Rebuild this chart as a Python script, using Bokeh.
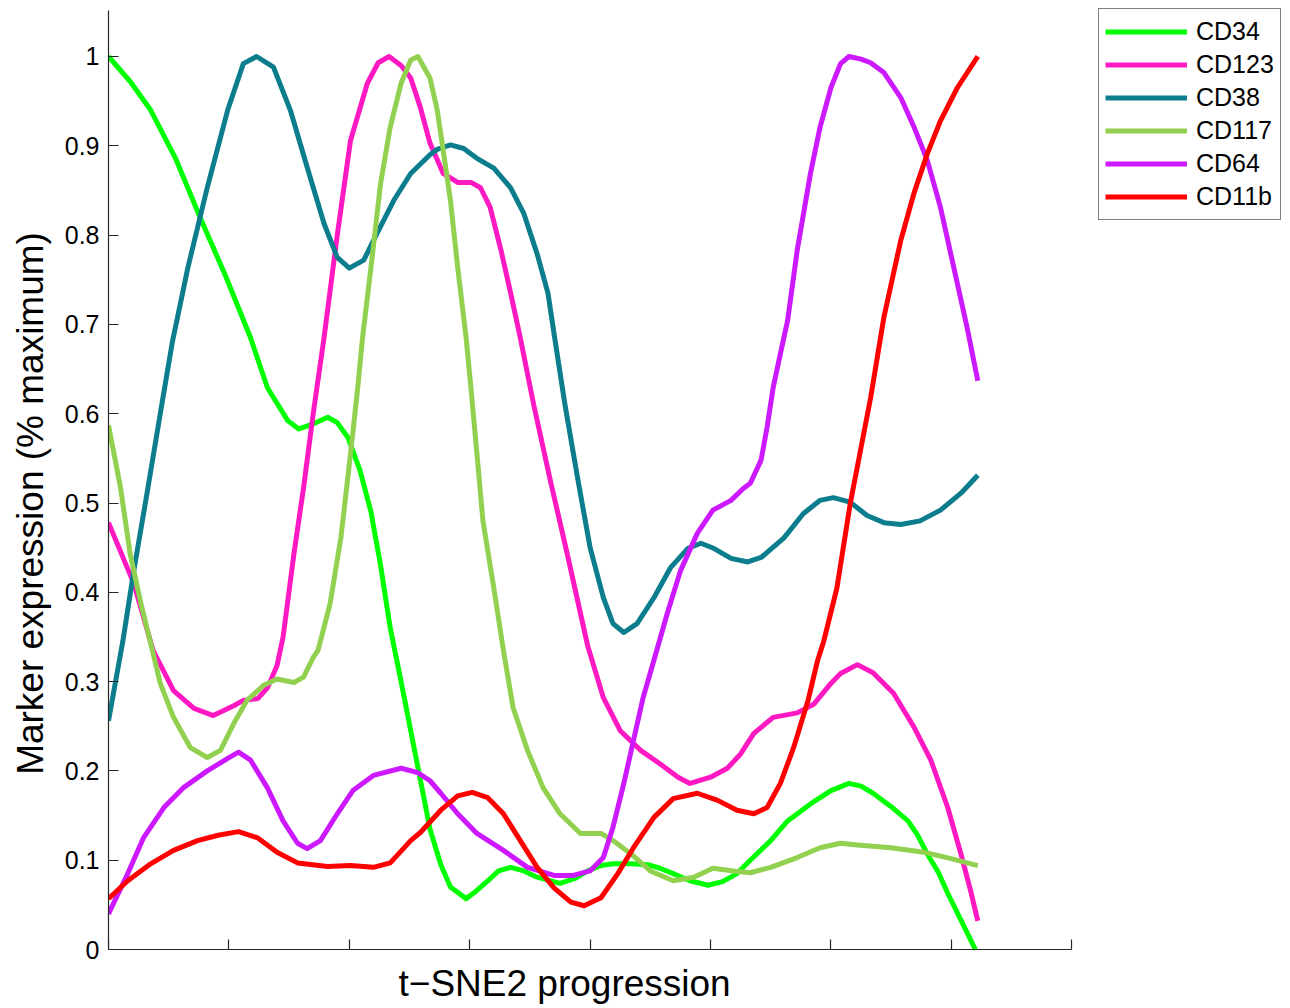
from bokeh.plotting import figure
from bokeh.models import Range1d, FixedTicker, Legend, LegendItem, Label
from bokeh.embed import file_html
from bokeh.resources import INLINE

# ---- data (t-SNE2 progression, arbitrary units; expression as fraction of maximum) ----
names = ["CD34", "CD123", "CD38", "CD117", "CD64", "CD11b"]
colors = ["#00ff00", "#ff19c3", "#0b7d8c", "#92d050", "#cc19ff", "#ff0000"]

x_cd34 = [0, 1.8, 3.5, 5.6, 7.6, 9.7, 11.8, 13.2, 14.9, 15.8,
          16.9, 18.2, 19.0, 19.9, 20.9, 21.8, 22.6, 23.4, 24.3, 25.1,
          25.9, 26.7, 27.6, 28.4, 29.7, 30.5, 31.5, 32.4, 33.4, 34.5,
          35.6, 37.5, 38.8, 39.8, 40.9, 41.9, 43.4, 44.8, 45.8, 46.9,
          48.3, 49.8, 51.0, 52.2, 53.3, 55.0, 56.4, 58.3, 60.0, 61.5,
          62.5, 63.5, 65.0, 66.4, 67.2, 68.0, 68.9, 69.7, 70.8, 72.0]
y_cd34 = [1.0, 0.972, 0.94, 0.885, 0.82, 0.755, 0.685, 0.629, 0.592, 0.583,
          0.588, 0.596, 0.590, 0.573, 0.536, 0.49, 0.43, 0.36, 0.30, 0.245,
          0.19, 0.135, 0.095, 0.07, 0.057, 0.065, 0.077, 0.088, 0.092, 0.088,
          0.081, 0.074, 0.080, 0.088, 0.094, 0.096, 0.096, 0.095, 0.091, 0.085,
          0.077, 0.072, 0.076, 0.085, 0.100, 0.122, 0.144, 0.163, 0.178, 0.186,
          0.183, 0.175, 0.160, 0.144, 0.128, 0.107, 0.087, 0.063, 0.033, 0.0]

x_cd123 = [0, 2.1, 3.7, 5.4, 7.1, 8.7, 10.4, 11.2, 12.4, 13.2,
           14.0, 14.5, 15.4, 16.2, 17.0, 17.9, 19.0, 20.1, 21.5, 22.4,
           23.3, 24.3, 25.1, 25.9, 26.7, 27.8, 29.0, 30.1, 30.9, 31.7,
           32.6, 33.4, 34.2, 35.3, 36.7, 38.1, 39.8, 41.1, 42.5, 44.2,
           45.8, 47.3, 48.3, 50.0, 51.4, 52.5, 53.6, 55.2, 57.2, 58.6,
           60.0, 60.8, 62.2, 63.5, 65.2, 66.9, 68.3, 69.7, 70.8, 71.6,
           72.2]
y_cd123 = [0.478, 0.41, 0.335, 0.29, 0.27, 0.262, 0.273, 0.279, 0.281, 0.293,
           0.318, 0.35, 0.443, 0.517, 0.600, 0.685, 0.80, 0.906, 0.970, 0.993,
           1.0, 0.99, 0.976, 0.943, 0.903, 0.869, 0.859, 0.859, 0.853, 0.831,
           0.783, 0.735, 0.685, 0.611, 0.525, 0.443, 0.340, 0.282, 0.245, 0.223,
           0.208, 0.193, 0.186, 0.193, 0.203, 0.219, 0.242, 0.260, 0.265, 0.275,
           0.298, 0.309, 0.319, 0.310, 0.287, 0.249, 0.212, 0.159, 0.107, 0.066,
           0.032]

x_cd38 = [0, 1.2, 2.1, 3.2, 4.3, 5.3, 6.6, 8.2, 9.9, 11.2,
          12.3, 13.7, 15.1, 16.5, 17.9, 19.0, 20.0, 21.2, 22.3, 23.7,
          25.1, 26.7, 27.3, 28.4, 29.5, 30.6, 32.0, 33.4, 34.5, 35.6,
          36.5, 37.0, 37.9, 39.0, 40.0, 41.1, 41.9, 42.8, 43.9, 45.3,
          46.7, 48.1, 49.2, 50.3, 51.7, 53.1, 54.2, 56.1, 57.7, 59.1,
          60.2, 61.6, 63.0, 64.4, 65.8, 67.4, 69.1, 70.8, 72.2]
y_cd38 = [0.256, 0.346, 0.424, 0.511, 0.600, 0.68, 0.764, 0.853, 0.94, 0.992,
          1.0, 0.988, 0.94, 0.876, 0.813, 0.775, 0.763, 0.772, 0.802, 0.839,
          0.869, 0.890, 0.896, 0.901, 0.897, 0.886, 0.875, 0.853, 0.824, 0.779,
          0.735, 0.690, 0.611, 0.525, 0.450, 0.394, 0.365, 0.355, 0.365, 0.394,
          0.428, 0.449, 0.455, 0.449, 0.438, 0.434, 0.439, 0.461, 0.488, 0.503,
          0.506, 0.501, 0.486, 0.478, 0.476, 0.480, 0.492, 0.511, 0.531]

x_cd117 = [0, 1.0, 1.8, 2.7, 3.5, 4.3, 5.4, 6.8, 8.2, 9.3,
           10.4, 11.5, 12.9, 14.0, 15.4, 16.2, 17.0, 17.4, 18.4, 19.3,
           20.1, 20.7, 21.1, 21.8, 22.6, 23.4, 24.3, 25.1, 25.7, 26.7,
           27.3, 27.8, 28.4, 29.0, 29.7, 30.1, 30.6, 31.1, 32.0, 32.8,
           33.6, 34.8, 36.1, 37.5, 39.2, 40.9, 41.9, 43.4, 45.0, 46.9,
           48.6, 50.2, 51.9, 53.3, 55.0, 57.2, 59.1, 60.8, 62.2, 65.0,
           67.7, 69.9, 72.2]
y_cd117 = [0.587, 0.517, 0.443, 0.387, 0.343, 0.298, 0.260, 0.226, 0.215, 0.223,
           0.253, 0.279, 0.296, 0.303, 0.299, 0.305, 0.327, 0.335, 0.387, 0.461,
           0.555, 0.629, 0.685, 0.764, 0.858, 0.921, 0.970, 0.996, 1.0, 0.976,
           0.940, 0.895, 0.839, 0.764, 0.685, 0.629, 0.555, 0.480, 0.405, 0.335,
           0.271, 0.223, 0.181, 0.152, 0.130, 0.130, 0.122, 0.107, 0.088, 0.077,
           0.081, 0.091, 0.088, 0.086, 0.092, 0.103, 0.114, 0.119, 0.117, 0.114,
           0.109, 0.102, 0.094]

x_cd64 = [0, 1.6, 2.9, 4.6, 6.2, 8.2, 9.9, 10.8, 11.8, 13.2,
          14.5, 15.7, 16.5, 17.6, 19.0, 20.3, 22.0, 24.3, 25.7, 26.7,
          27.6, 29.0, 30.6, 32.8, 34.8, 37.0, 38.6, 40.0, 41.1, 41.9,
          42.8, 43.6, 44.4, 45.3, 46.4, 47.5, 48.9, 50.2, 51.7, 52.7,
          53.3, 54.2, 54.7, 55.2, 55.8, 56.4, 57.2, 58.3, 59.1, 60.0,
          60.8, 61.5, 62.5, 63.3, 64.4, 65.8, 66.9, 68.0, 69.1, 70.2,
          71.3, 72.2]
y_cd64 = [0.040, 0.085, 0.125, 0.159, 0.181, 0.200, 0.214, 0.221, 0.212, 0.181,
          0.144, 0.119, 0.113, 0.122, 0.152, 0.178, 0.195, 0.203, 0.198, 0.189,
          0.175, 0.152, 0.130, 0.111, 0.092, 0.083, 0.083, 0.088, 0.103, 0.137,
          0.186, 0.234, 0.282, 0.324, 0.376, 0.424, 0.466, 0.492, 0.503, 0.516,
          0.522, 0.548, 0.585, 0.629, 0.667, 0.704, 0.783, 0.869, 0.921, 0.965,
          0.992, 1.0, 0.997, 0.993, 0.982, 0.954, 0.921, 0.884, 0.831, 0.764,
          0.697, 0.637]

x_cd11b = [0, 1.6, 3.5, 5.4, 7.4, 9.1, 10.8, 12.4, 14.0, 15.7,
           18.2, 20.1, 22.0, 23.4, 25.1, 25.9, 27.6, 29.0, 30.2, 31.5,
           32.8, 34.2, 35.6, 37.0, 38.4, 39.5, 40.9, 42.3, 43.6, 45.3,
           46.9, 48.9, 50.6, 52.2, 53.6, 54.7, 55.8, 56.9, 58.1, 58.9,
           59.4, 60.5, 61.6, 62.5, 63.3, 64.4, 65.8, 66.9, 68.0, 69.1,
           70.5, 72.2]
y_cd11b = [0.057, 0.077, 0.096, 0.111, 0.122, 0.128, 0.132, 0.125, 0.109, 0.097,
           0.093, 0.094, 0.092, 0.097, 0.122, 0.131, 0.156, 0.172, 0.176, 0.170,
           0.152, 0.122, 0.092, 0.069, 0.053, 0.049, 0.058, 0.085, 0.114, 0.148,
           0.169, 0.175, 0.167, 0.156, 0.152, 0.159, 0.186, 0.226, 0.279, 0.324,
           0.345, 0.405, 0.499, 0.562, 0.618, 0.708, 0.794, 0.847, 0.891, 0.928,
           0.965, 1.0]

x_ticks = [0, 10, 20, 30, 40, 50, 60, 70, 80]
x_axis_bounds = (0, 80)
y_ticks = [0, 0.1, 0.2, 0.3, 0.4, 0.5, 0.6, 0.7, 0.8, 0.9, 1]
y_axis_bounds = (0, 1.0515)
y_tick_labels = ["0", "0.1", "0.2", "0.3", "0.4", "0.5", "0.6", "0.7", "0.8", "0.9", "1"]
x_title = "t\u2212SNE2 progression"
y_title = "Marker expression (% maximum)"

series_x = [x_cd34, x_cd123, x_cd38, x_cd117, x_cd64, x_cd11b]
series_y = [y_cd34, y_cd123, y_cd38, y_cd117, y_cd64, y_cd11b]

FONT = "Liberation Sans"
AX = "#262626"

# The frame covers the whole canvas right of the y axis; the x axis is drawn at y=0
# (fixed_location) and both axis lines are limited with `bounds` to the real axes box,
# so the legend and the x title (drawn inside the frame) are not clipped.
p = figure(width=1290, height=1006, output_backend="svg", toolbar_location=None,
           x_range=Range1d(0, 98.17), y_range=Range1d(-0.0638, 1.0627),
           min_border_left=108, min_border_right=0, min_border_top=0, min_border_bottom=0)
p.outline_line_color = None
p.background_fill_color = "white"
p.border_fill_color = "white"
p.xgrid.visible = False
p.ygrid.visible = False

renderers = []
for xs, ys, c in zip(series_x, series_y, colors):
    r = p.line(xs, ys, line_color=c, line_width=5, line_join="round", line_cap="butt")
    renderers.append(r)

# axes
for ax in (p.xaxis[0], p.yaxis[0]):
    ax.axis_line_color = AX
    ax.axis_line_width = 1.2
    ax.major_tick_line_color = AX
    ax.major_tick_line_width = 1.2
    ax.major_tick_in = 10
    ax.major_tick_out = 0
    ax.minor_tick_line_color = None
    ax.axis_label_text_font = FONT
    ax.axis_label_text_font_size = "37px"
    ax.axis_label_text_font_style = "normal"
    ax.axis_label_text_color = "black"
    ax.major_label_text_font = FONT
    ax.major_label_text_color = "black"

p.xaxis.ticker = FixedTicker(ticks=x_ticks)
p.xaxis.bounds = x_axis_bounds
p.xaxis.fixed_location = 0
p.xaxis.major_label_overrides = {t: "" for t in x_ticks}
p.xaxis.major_label_text_font_size = "25px"
p.xaxis.major_label_standoff = 0

p.yaxis.ticker = FixedTicker(ticks=y_ticks)
p.yaxis.bounds = y_axis_bounds
p.yaxis.major_label_overrides = {t: s for t, s in zip(y_ticks, y_tick_labels)}
p.yaxis.major_label_text_font_size = "25px"
p.yaxis.major_label_standoff = 9
p.yaxis.axis_label = y_title
p.yaxis.axis_label_standoff = 11

# x axis title (placed like the reference: left edge ~290 px right of the y axis)
p.add_layout(Label(x=290, y=23, x_units="screen", y_units="screen", text=x_title,
                   text_font=FONT, text_font_size="37px", text_color="black",
                   text_align="left", text_baseline="alphabetic"))

legend = Legend(items=[LegendItem(label=n, renderers=[r]) for n, r in zip(names, renderers)],
                location=(990, 786))
legend.border_line_color = "black"
legend.border_line_width = 1
legend.background_fill_color = "white"
legend.background_fill_alpha = 1.0
legend.label_text_font = FONT
legend.label_text_font_size = "25px"
legend.label_text_color = "black"
legend.glyph_width = 82
legend.glyph_height = 33
legend.label_height = 33
legend.label_standoff = 9
legend.spacing = 0
legend.padding = 6
legend.margin = 0
p.add_layout(legend)

open("out.html", "w").write(file_html(p, INLINE))
